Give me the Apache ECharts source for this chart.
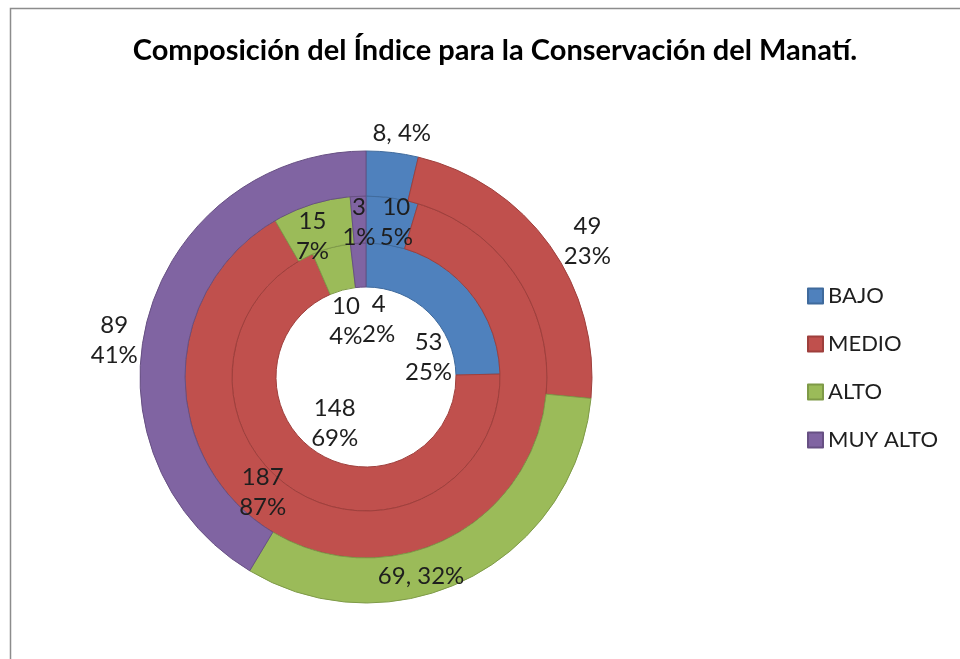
<!DOCTYPE html>
<html><head><meta charset="utf-8">
<script src="https://cdn.jsdelivr.net/npm/echarts@6/dist/echarts.min.js"></script>
<style>html,body{margin:0;padding:0;background:#fff}#c{width:960px;height:659px}</style>
</head><body><div id="c"></div>
<script>
const titleText = 'Composición del Índice para la Conservación del Manatí.';
const categories = ['BAJO', 'MEDIO', 'ALTO', 'MUY ALTO'];
const colors = ['#4F81BD', '#C0504D', '#9BBB59', '#8064A2'];
const innerValues = [53, 148, 10, 4];
const innerPct = [25, 69, 4, 2];
const middleValues = [10, 187, 15, 3];
const middlePct = [5, 87, 7, 1];
const outerValues = [8, 49, 69, 89];
const outerPct = [4, 23, 32, 41];

const FONT = 'Lato';
const CENTER = ['366px', '377px'];
const borders = ['#3F6A9C', '#9E3F3C', '#7E9A47', '#675083'];

function mk(values, pct) {
  return values.map((v, i) => ({
    name: categories[i], value: v, pct: pct[i],
    itemStyle: { color: colors[i], borderColor: borders[i], borderWidth: 1 }
  }));
}
function ghost(values, pct) {
  return mk(values, pct).map(d => Object.assign(d, { itemStyle: { color: 'rgba(0,0,0,0)', borderWidth: 0 } }));
}
const twoLine = p => p.value + '\n' + p.data.pct + '%';
const oneLine = p => p.value + ', ' + p.data.pct + '%';
const baseLabel = {
  position: 'inside', fontFamily: FONT, fontSize: 24, color: '#1e1e1e', lineHeight: 30,
  formatter: twoLine
};
function nudge(map) {
  return p => { const m = map[p.dataIndex]; if (m) return { dx: m[0], dy: m[1] }; };
}

const outerLabelData = ghost(outerValues, outerPct);
outerLabelData[0].label = { formatter: oneLine };
outerLabelData[2].label = { show: false };

const outerData = mk(outerValues, outerPct);
outerData[2].label = { show: true, formatter: oneLine };

const chart = echarts.init(document.getElementById('c'));
chart.setOption({
  animation: false,
  color: colors,
  title: {
    text: titleText, left: 490, top: 31, textAlign: 'center',
    textStyle: { fontFamily: FONT, fontSize: 29, fontWeight: 'bold', color: '#000' }
  },
  legend: {
    orient: 'vertical', left: 807, top: 285, padding: 0, itemWidth: 15, itemHeight: 15, itemGap: 26,
    icon: 'rect', data: categories, selectedMode: false,
    textStyle: { fontFamily: FONT, fontSize: 22, color: '#1e1e1e', lineHeight: 22 }
  },
  graphic: [{
    type: 'rect', silent: true,
    shape: { x: 10.5, y: 8.5, width: 1000, height: 700 },
    style: { fill: 'none', stroke: '#8c8c8c', lineWidth: 1.5 }
  }],
  series: [
    {
      type: 'pie', name: 'inner', center: CENTER, radius: [90, 134], startAngle: 90,
      data: mk(innerValues, innerPct), label: { show: false }, labelLine: { show: false }
    },
    {
      type: 'pie', name: 'innerLabels', center: CENTER, radius: [20, 90], startAngle: 90, silent: true,
      data: ghost(innerValues, innerPct),
      label: baseLabel, labelLine: { show: false },
      labelLayout: nudge({ 0: [22, 22], 1: [0, -3], 2: [-5, 0], 3: [16, 0] })
    },
    {
      type: 'pie', name: 'middle', center: CENTER, radius: [134, 181], startAngle: 90,
      data: mk(middleValues, middlePct),
      label: baseLabel, labelLine: { show: false },
      labelLayout: nudge({ 0: [7, 4], 1: [-122, -44], 2: [-5, 12], 3: [0, 6] })
    },
    {
      type: 'pie', name: 'outer', center: CENTER, radius: [181, 226], startAngle: 90,
      data: outerData,
      label: Object.assign({}, baseLabel, { show: false }), labelLine: { show: false },
      labelLayout: nudge({ 2: [-38, 15] })
    },
    {
      type: 'pie', name: 'outerLabels', center: CENTER, radius: [226, 278], startAngle: 90, silent: true,
      data: outerLabelData,
      label: baseLabel, labelLine: { show: false },
      labelLayout: nudge({ 0: [6, 10], 1: [14, 13], 3: [-6, 31] })
    }
  ]
});
</script></body></html>
